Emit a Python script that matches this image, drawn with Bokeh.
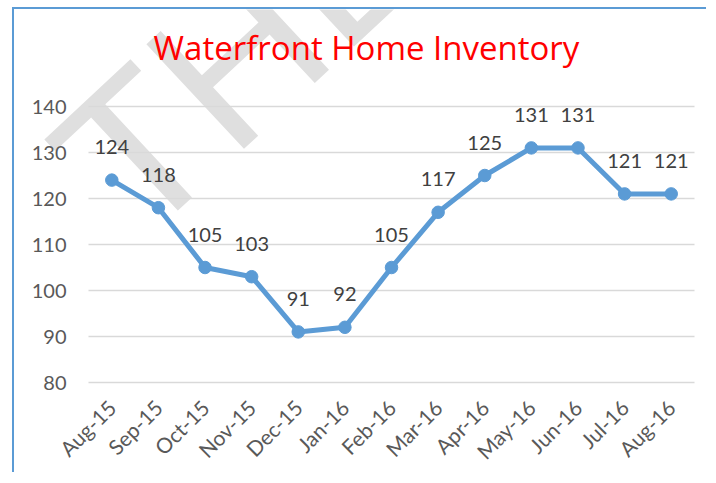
from bokeh.plotting import figure
from bokeh.models import ColumnDataSource, LabelSet, Label, Range1d, FixedTicker
from bokeh.embed import file_html
from bokeh.resources import INLINE
from bokeh.core.properties import value
import math

months = ["Aug-15", "Sep-15", "Oct-15", "Nov-15", "Dec-15", "Jan-16", "Feb-16",
          "Mar-16", "Apr-16", "May-16", "Jun-16", "Jul-16", "Aug-16"]
inventory = [124, 118, 105, 103, 91, 92, 105, 117, 125, 131, 131, 121, 121]
y_ticks = [80, 90, 100, 110, 120, 130, 140]
title_text = "Waterfront Home Inventory"
watermark_text = "THE"

FONT = "Lato"
BLUE = "#5b9bd5"

idx = list(range(len(months)))
src = ColumnDataSource(dict(x=idx, inv=inventory, lbl=[str(v) for v in inventory]))

# frame covers the whole canvas; axes are pinned inside it
p = figure(width=694, height=465, output_backend="svg", toolbar_location=None,
           x_range=Range1d(-2.0875, len(months) - 0.5 + 0.30),
           y_range=Range1d(60, 161.09),
           min_border=0, min_border_left=0, min_border_right=0,
           min_border_top=0, min_border_bottom=0)
p.styles = {"margin-left": "12px", "margin-top": "7px",
            "border-left": "2px solid #5b9bd5", "border-top": "2px solid #5b9bd5"}
p.outline_line_color = None
p.grid.visible = False

wm = Label(x=75, y=280, x_units="screen", y_units="screen", text=watermark_text,
           angle=0.75, text_font_size="208px", text_color="#dfdfdf",
           text_font="Liberation Sans", text_align="left",
           text_baseline="alphabetic", level="underlay")
p.add_layout(wm)

# gridlines
gx0 = [-0.5] * len(y_ticks)
gx1 = [len(months) - 0.5] * len(y_ticks)
p.segment(x0=gx0, x1=gx1, y0=y_ticks, y1=y_ticks, line_color="#d9d9d9",
          line_width=1.5)

for ax in (p.xaxis, p.yaxis):
    ax.axis_line_color = None
    ax.major_tick_line_color = None
    ax.minor_tick_line_color = None
    ax.major_tick_out = 0
    ax.major_tick_in = 0
    ax.major_label_text_font = FONT
    ax.major_label_text_color = "#595959"

p.yaxis.ticker = FixedTicker(ticks=y_ticks)
p.yaxis.fixed_location = -0.5
p.yaxis.major_label_standoff = 22
p.yaxis.major_label_text_font_size = "20px"

p.xaxis.ticker = FixedTicker(ticks=idx)
p.xaxis.major_label_overrides = {i: m for i, m in zip(idx, months)}
p.xaxis.fixed_location = y_ticks[0]
p.xaxis.major_label_standoff = 21
p.xaxis.major_label_orientation = math.pi / 4
p.xaxis.major_label_text_font_size = "21px"

p.line("x", "inv", source=src, line_width=5, line_color=BLUE, line_join="round")
p.scatter("x", "inv", source=src, size=12.5, fill_color=BLUE, line_color=BLUE)

labels = LabelSet(x="x", y="inv", text="lbl", source=src, y_offset=26,
                  text_align="center", text_baseline="alphabetic",
                  text_font=value(FONT), text_font_size="20px",
                  text_color="#404040")
p.add_layout(labels)

title = Label(x=352, y=427, x_units="screen", y_units="screen", text=title_text,
              text_align="center", text_baseline="alphabetic",
              text_font="Open Sans", text_font_size="33px", text_color="#ff0000")
p.add_layout(title)

open("out.html", "w").write(file_html(p, INLINE))
